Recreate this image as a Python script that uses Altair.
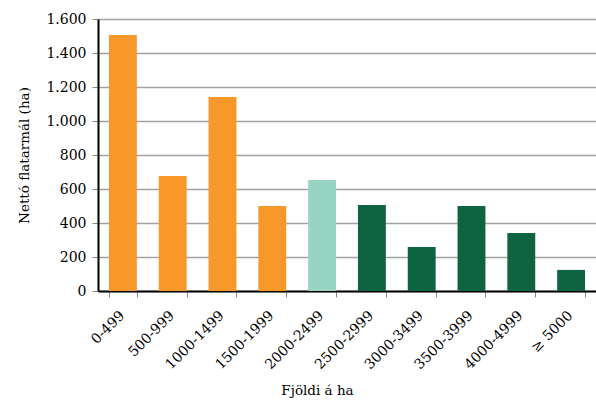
import altair as alt
import pandas as pd

# Size classes (number of hectares) and net area in each class
categories = ["0-499", "500-999", "1000-1499", "1500-1999", "2000-2499",
              "2500-2999", "3000-3499", "3500-3999", "4000-4999", "≥ 5000"]
values = [1506, 677, 1141, 500, 653, 506, 259, 500, 341, 124]
groups = ["a", "a", "a", "a", "b", "c", "c", "c", "c", "c"]

group_domain = ["a", "b", "c"]
group_colors = ["#F8972A", "#97D4C4", "#0E6340"]

df = pd.DataFrame({"flokkur": categories, "ha": values, "hopur": groups})

FONT = "DejaVu Serif"

chart = alt.Chart(df).mark_bar(color="#F8972A").encode(
    x=alt.X(
        "flokkur:N",
        sort=categories,
        scale=alt.Scale(paddingInner=0.44, paddingOuter=0.22),
        axis=alt.Axis(
            title="Fjöldi á ha",
            titleX=219,
            titleY=103,
            titleBaseline="alphabetic",
            labelAngle=-45,
            labelAlign="right",
            labelBaseline="middle",
            labelPadding=16,
            labelOffset=-1,
            labelFontSize=14,
            tickBand="extent",
            tickSize=6,
            tickColor="#888888",
            domainColor="#000000",
            domainWidth=2,
            grid=False,
        ),
    ),
    y=alt.Y(
        "ha:Q",
        scale=alt.Scale(domain=[0, 1600], nice=False),
        axis=alt.Axis(
            title="Nettó flatarmál (ha)",
            values=[0, 200, 400, 600, 800, 1000, 1200, 1400, 1600],
            format=",d",
            tickSize=6,
            tickColor="#888888",
            labelPadding=6,
            labelFontSize=14,
            titlePadding=14,
            domainColor="#000000",
            domainWidth=2,
            gridColor="#A2A2A2",
            gridWidth=1.5,
        ),
    ),
    color=alt.Color(
        "hopur:N",
        scale=alt.Scale(domain=group_domain, range=group_colors),
        legend=None,
    ),
).properties(
    width=498,
    height=272,
    autosize=alt.AutoSizeParams(type="none"),
    padding={"left": 98, "top": 19, "right": 0, "bottom": 109},
).configure(
    locale={"number": {"decimal": ",", "thousands": ".", "grouping": [3], "currency": ["", " kr."]}},
).configure_view(
    stroke=None,
).configure_axis(
    labelFont=FONT,
    titleFont=FONT,
    titleFontSize=13.5,
    labelColor="#000000",
    titleColor="#000000",
    titleFontWeight="normal",
)

chart.save("out.html", embed_options={"renderer": "svg", "actions": False})
